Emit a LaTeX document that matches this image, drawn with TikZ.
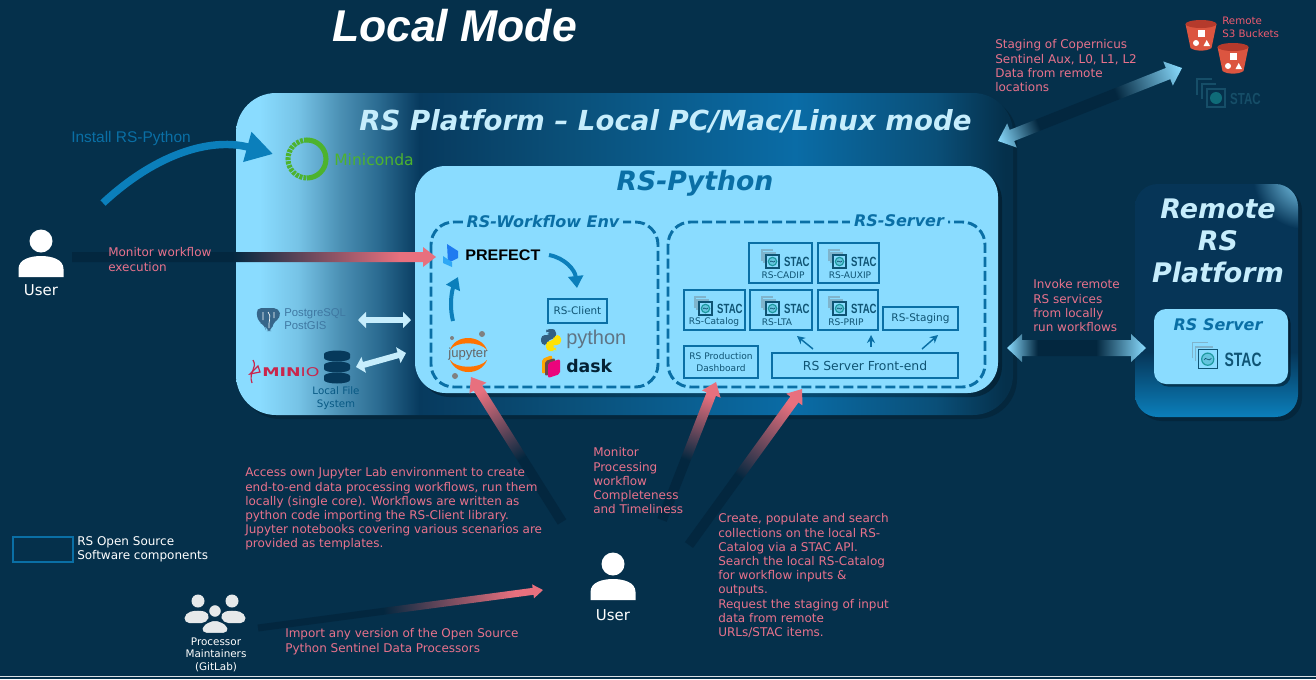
\documentclass[tikz,border=0pt]{standalone}
\usepackage{fontspec}
\setmainfont{DejaVu Sans}
\newfontfamily\arialFont{Liberation Sans}
\usetikzlibrary{arrows.meta,calc,shadows}

\definecolor{bgNavy}{HTML}{05304B}
\definecolor{bgDeep}{HTML}{03273F}
\definecolor{skyFill}{HTML}{8ADCFF}
\definecolor{paleArrow}{HTML}{C6EDFC}
\definecolor{lineBlue}{HTML}{0A6FA5}
\definecolor{archBlue}{HTML}{0B7FBB}
\definecolor{arrowRose}{HTML}{E8707E}
\definecolor{textRose}{HTML}{E8728C}
\definecolor{stacTeal}{HTML}{1E9AA0}
\definecolor{stacGrey}{HTML}{7FB4CC}
\definecolor{stacInk}{HTML}{0F5474}
\definecolor{stacDim}{HTML}{164E68}
\definecolor{stacDimTeal}{HTML}{0F6B78}
\definecolor{bucketRed}{HTML}{DC5540}
\definecolor{bucketDark}{HTML}{B53A2C}
\definecolor{condaGreen}{HTML}{4DB32E}
\definecolor{pgBlue}{HTML}{3F78A2}
\definecolor{minioRed}{HTML}{C9264C}
\definecolor{dbNavy}{HTML}{06395B}
\definecolor{crowdGrey}{HTML}{E6E9EA}
\definecolor{prefectBlue}{HTML}{1F7BF0}
\definecolor{prefectSky}{HTML}{2FA8F5}
\definecolor{pythonGrey}{HTML}{5F7484}
\definecolor{fadeSeven}{HTML}{76C3E6}
\definecolor{fadeFive}{HTML}{4B90B4}
\definecolor{fadeThree}{HTML}{2A6A90}
\definecolor{fadeOne}{HTML}{073A5E}
\definecolor{fadeTwo}{HTML}{0A4F78}
\definecolor{fadeFour}{HTML}{0A6CA6}
\definecolor{remoteDark}{HTML}{063557}

% ---------- shadings (25bp to 75bp is the span of the path) ----------
\pgfdeclarehorizontalshading{platformFade}{100bp}{
  color(0bp)=(skyFill); color(26.5bp)=(skyFill); color(29bp)=(fadeSeven);
  color(31.7bp)=(fadeFive); color(34.2bp)=(fadeThree); color(36.8bp)=(fadeOne);
  color(46bp)=(fadeTwo); color(61bp)=(fadeFour); color(70bp)=(fadeTwo);
  color(74.5bp)=(bgNavy); color(100bp)=(bgNavy)}
\pgfdeclarehorizontalshading{roseFade}{100bp}{
  color(0bp)=(bgDeep); color(47bp)=(bgDeep); color(70bp)=(arrowRose); color(100bp)=(arrowRose)}
\pgfdeclarehorizontalshading{skyFade}{100bp}{
  color(0bp)=(skyFill); color(25bp)=(skyFill); color(36bp)=(bgDeep);
  color(57bp)=(bgDeep); color(75bp)=(skyFill); color(100bp)=(skyFill)}
\pgfdeclareverticalshading{remoteFade}{100bp}{
  color(0bp)=(archBlue); color(25bp)=(archBlue); color(39bp)=(remoteDark); color(100bp)=(remoteDark)}

% ---------- fat arrow: shading, from, to, half shaft, half head, head length ----------
\newcommand{\fadeArrow}[6]{%
  \path let \p1=(#2),\p2=(#3),\n1={atan2(\y2-\y1,\x2-\x1)},\n2={veclen(\x2-\x1,\y2-\y1)} in
    \pgfextra{\pgfmathsetmacro{\arrowAng}{\n1}\pgfmathsetmacro{\arrowLen}{\n2}%
      \xdef\arrowAng{\arrowAng}\xdef\arrowLen{\arrowLen}\xdef\arrowX{\x1}\xdef\arrowY{\y1}};
  \path[shade,shading=#1,x=1pt,y=1pt,transform canvas={shift={(\arrowX,\arrowY)},rotate=\arrowAng}]
    (0,{#4*.75}) -- ({\arrowLen-#6*.75},{#4*.75}) -- ({\arrowLen-#6*.75},{#5*.75}) -- (\arrowLen,0)
    -- ({\arrowLen-#6*.75},{-#5*.75}) -- ({\arrowLen-#6*.75},{-#4*.75}) -- (0,{-#4*.75}) -- cycle;
}
\newcommand{\fadeBoth}[6]{%
  \path let \p1=(#2),\p2=(#3),\n1={atan2(\y2-\y1,\x2-\x1)},\n2={veclen(\x2-\x1,\y2-\y1)} in
    \pgfextra{\pgfmathsetmacro{\arrowAng}{\n1}\pgfmathsetmacro{\arrowLen}{\n2}%
      \xdef\arrowAng{\arrowAng}\xdef\arrowLen{\arrowLen}\xdef\arrowX{\x1}\xdef\arrowY{\y1}};
  \path[shade,shading=#1,x=1pt,y=1pt,transform canvas={shift={(\arrowX,\arrowY)},rotate=\arrowAng}]
    (0,0) -- ({#6*.75},{#5*.75}) -- ({#6*.75},{#4*.75}) -- ({\arrowLen-#6*.75},{#4*.75})
    -- ({\arrowLen-#6*.75},{#5*.75}) -- (\arrowLen,0) -- ({\arrowLen-#6*.75},{-#5*.75})
    -- ({\arrowLen-#6*.75},{-#4*.75}) -- ({#6*.75},{-#4*.75}) -- ({#6*.75},{-#5*.75}) -- cycle;
}

\begin{document}
\begin{tikzpicture}[
  x=0.75pt,
  y=-0.75pt,
  line cap=butt,
  every node/.style={inner sep=0pt, align=center},
  dashBox/.style={draw=lineBlue, line width=2.2pt, dash pattern=on 7.5pt off 3pt, rounded corners=17pt},
  compBox/.style={draw=lineBlue, line width=1.5pt, anchor=north west},
  bendArrow/.style={draw=archBlue, line width=3pt, -{Triangle[length=9pt,width=11pt]}},
  tickArrow/.style={draw=lineBlue, line width=1.1pt, -{Stealth[length=6pt,width=6pt]}},
  paleArrowLine/.style={draw=paleArrow, line width=4.5pt, {Triangle[length=6pt,width=12pt]}-{Triangle[length=6pt,width=12pt]}}
]

% ---------- node styles ----------
\tikzset{
  roseNote/.style={anchor=north west, align=left, text=textRose, font=\fontsize{9}{10.65}\selectfont},
  whiteNote/.style={anchor=north west, align=left, text=white, font=\fontsize{9}{10.65}\selectfont},
  boxLabel/.style={text=stacInk, font=\fontsize{6.8}{9}\selectfont},
  boxTitle/.style={text=lineBlue, fill=skyFill, inner xsep=3pt, font=\fontsize{12}{14}\selectfont\bfseries\itshape},
  staclogo/.pic={
    \draw[stacGrey, line width=1pt] (-10,1) |- (1,-10);
    \draw[stacGrey, line width=1pt] (-8,3) |- (4,-7);
    \draw[#1, line width=.9pt] (-6,-5) rectangle (7,8);
    \draw[stacTeal, fill=stacTeal!35!skyFill, line width=.9pt] (.5,1.5) circle[radius=4.2];
    \draw[stacInk, line width=.5pt] (-2,2) .. controls (-1,-1) and (1,4) .. (3,1);
    \node[text=#1, anchor=west, xscale=.72, transform shape, font=\arialFont\fontsize{10}{11}\selectfont\bfseries] at (12,2) {STAC};
  },
  userIcon/.pic={
    \fill[white] (0,0) circle[radius=11.5];
    \fill[white] (-22.5,36) -- (-22.5,28) .. controls (-22.5,18) and (-10,15) .. (0,15)
      .. controls (10,15) and (22.5,18) .. (22.5,28) -- (22.5,36) -- cycle;
  },
  s3Bucket/.pic={
    \fill[bucketRed] (-15.5,-11) -- (-10.5,13) .. controls (-6,16.5) and (6,16.5) .. (10.5,13) -- (15.5,-11) -- cycle;
    \fill[bucketDark] (0,-11) ellipse[x radius=15.5, y radius=4];
    \fill[white] (-3,-5) rectangle (4,2);
    \fill[white] (-5,8) circle[radius=3];
    \fill[white] (2.5,11) -- (9,11) -- (5.7,5) -- cycle;
  }
}

% ---------- canvas ----------
\path[use as bounding box, fill=bgNavy] (0,0) rectangle (1316,679);
\draw[white!85!bgNavy, line width=.8pt] (0,676.5) -- (1316,676.5);

\node[text=white, font=\arialFont\fontsize{33.4}{36}\selectfont\bfseries\itshape] (modeTitle) at (454.5,26) {Local Mode};

% ---------- platform boxes ----------
\path[shade, shading=platformFade, rounded corners=30pt, drop shadow={shadow xshift=3pt, shadow yshift=-3pt, fill=black, opacity=.18}]
  (236,93) rectangle (1013,415);
\node[text=paleArrow, font=\fontsize{20.7}{24}\selectfont\bfseries\itshape] (platformTitle) at (665.5,121) {RS Platform -- Local PC/Mac/Linux mode};

\path[fill=skyFill, rounded corners=23pt, drop shadow={shadow xshift=3pt, shadow yshift=-3pt, fill=black, opacity=.3}]
  (415,166) rectangle (998,393);
\node[text=lineBlue, font=\fontsize{20}{24}\selectfont\bfseries\itshape] (pythonTitle) at (695,183) {RS-Python};

\draw[dashBox] (431,222) rectangle (658,387);
\draw[dashBox] (668,222) rectangle (985,387);
\node[boxTitle] (envTitle) at (543,222) {RS-Workflow Env};
\node[boxTitle] (serverTitle) at (899,221) {RS-Server};

% ---------- server components ----------
\foreach \boxName/\boxX/\boxY/\boxW/\boxText/\textX/\logoX in {
    cadipBox/748/242/63/RS-CADIP/783/24, auxipBox/817/242/61/RS-AUXIP/850/22,
    catalogBox/683/289/61/RS-Catalog/714/22, ltaBox/749/289/62/RS-LTA/777/23, pripBox/817/289/60/RS-PRIP/846/22} {
  \node[compBox, minimum width=\boxW*.75pt, minimum height=30pt] (\boxName) at (\boxX,\boxY) {};
  \node[boxLabel] (\boxName Text) at (\textX,\boxY+33) {\boxText};
  \pic at (\boxX+\logoX,\boxY+18) {staclogo=stacInk};
}
\node[compBox, minimum width=56.2pt, minimum height=17.2pt, text=stacInk, font=\fontsize{7.9}{9}\selectfont] (stagingBox) at (882,306) {RS-Staging};
\node[compBox, minimum width=55.5pt, minimum height=24pt, text=stacInk, font=\fontsize{6.8}{9.4}\selectfont] (dashboardBox) at (683,345) {RS Production\\Dashboard};
\node[compBox, minimum width=139.5pt, minimum height=18.7pt, text=stacInk, font=\fontsize{9.3}{10}\selectfont] (frontEndBox) at (771,352) {RS Server Front-end};
\node[compBox, minimum width=44.2pt, minimum height=18pt, text=stacInk, font=\fontsize{7.8}{9}\selectfont] (clientBox) at (547,298) {RS-Client};

\coordinate (tickOneA) at (813,349);
\coordinate (tickOneB) at (797,336);
\coordinate (tickTwoA) at (871,347);
\coordinate (tickTwoB) at (871,335);
\coordinate (tickThreeA) at (922,349);
\coordinate (tickThreeB) at (938,335);
\draw[tickArrow] (tickOneA) -- (tickOneB);
\draw[tickArrow] (tickTwoA) -- (tickTwoB);
\draw[tickArrow] (tickThreeA) -- (tickThreeB);

% ---------- workflow env logos ----------
\fill[prefectBlue] (447,244) -- (458,251) -- (458,258) -- (448,263) -- cycle;
\fill[prefectSky] (443,256) -- (452,262) -- (452,267) -- (443,263) -- cycle;
\node[anchor=west, text=black, xscale=1.05, transform shape, font=\arialFont\fontsize{11.5}{13}\selectfont\bfseries] (prefectText) at (465,255.5) {PREFECT};

\coordinate (prefectOut) at (549,255);
\coordinate (clientIn) at (577,288);
\coordinate (jupyterOut) at (453,321);
\coordinate (prefectIn) at (458,277);
\draw[bendArrow] (prefectOut) .. controls (565,258) and (575,270) .. (clientIn);
\draw[bendArrow] (jupyterOut) .. controls (449,305) and (452,290) .. (prefectIn);

\fill[orange!90!red] (450,350) .. controls (455,334) and (481,334) .. (487,350) .. controls (480,341) and (456,341) .. cycle;
\fill[orange!90!red] (450,360) .. controls (456,376) and (481,376) .. (487,360) .. controls (480,369) and (456,369) .. cycle;
\fill[gray] (482,334) circle[radius=3];
\fill[gray] (452,338) circle[radius=2];
\fill[gray] (455,376) circle[radius=3];
\node[text=black!60, font=\arialFont\fontsize{9.8}{10}\selectfont] (jupyterText) at (468,354) {jupyter};

\fill[pgBlue!80!black, rounded corners=3pt] (551,329) -- (556,329) -- (556,339) -- (548,339) -- (548,345) -- (541,345) -- (541,335) -- (551,335) -- (551,333) -- (546,333) -- (546,329) -- cycle;
\fill[yellow!85!orange, rounded corners=3pt] (551,351) -- (546,351) -- (546,341) -- (554,341) -- (554,335) -- (561,335) -- (561,345) -- (551,345) -- (551,347) -- (556,347) -- (556,351) -- cycle;
\node[anchor=west, text=pythonGrey, font=\arialFont\fontsize{15}{19}\selectfont] (pythonText) at (566,339) {python};

\fill[orange!70!yellow, rounded corners=1.5pt] (542,359) -- (552,355) -- (552,370) -- (542,374) -- cycle;
\fill[red!40!teal, rounded corners=1.5pt] (545,361) -- (555,358) -- (555,373) -- (545,376) -- cycle;
\fill[magenta!85!red, rounded corners=1.5pt] (548,363) -- (560,359) -- (560,374) -- (548,378) -- cycle;
\node[anchor=west, text=bgNavy!70!black, font=\fontsize{13}{18}\selectfont\bfseries] (daskText) at (566,366) {dask};

% ---------- left side software ----------
\draw[condaGreen, line width=3.8pt] (307,140) arc[start angle=-90, end angle=90, x radius=19, y radius=19];
\draw[condaGreen, line width=3.8pt, dash pattern=on 2.2pt off .8pt] (307,140) arc[start angle=-90, end angle=-270, x radius=19, y radius=19];
\node[anchor=west, text=condaGreen, font=\fontsize{11.7}{13}\selectfont] (condaText) at (334,160) {Miniconda};

\fill[pgBlue!85!black, rounded corners=4pt] (256,308) -- (279,308) -- (281,318) -- (273,322) -- (272,331) -- (266,331) -- (265,325) -- (258,322) -- cycle;
\draw[white, line width=.5pt] (263,312) -- (263,320) (268,312) .. controls (272,316) and (268,322) .. (269,328) (274,312) -- (274,318);
\node[anchor=west, align=left, text=pgBlue, font=\arialFont\fontsize{8.5}{9.2}\selectfont] (postgresText) at (284,319) {PostgreSQL\\PostGIS};

\draw[minioRed, line width=.9pt] (253,360) .. controls (258,368) and (248,372) .. (252,383);
\draw[minioRed, line width=.9pt] (250,374) -- (258,366) -- (260,372) -- cycle;
\node[anchor=west, text=minioRed, xscale=1.45, transform shape, font=\fontsize{9}{10}\selectfont] (minioText) at (262,372) {\textbf{MIN}IO};

\foreach \diskY in {351,362,373} {
  \fill[dbNavy] (324,\diskY+3) -- (324,\diskY+7) arc[start angle=180, end angle=0, x radius=13, y radius=3.5] -- (350,\diskY+3) -- cycle;
  \fill[dbNavy] (337,\diskY+3) ellipse[x radius=13, y radius=3.5];
}
\node[text=lineBlue!80!black, font=\fontsize{7.7}{9.8}\selectfont] (fileText) at (336,398.5) {Local File\\System};

\coordinate (pgArrowA) at (358,320);
\coordinate (pgArrowB) at (411,320);
\coordinate (fileArrowA) at (356,367);
\coordinate (fileArrowB) at (406,353);
\draw[paleArrowLine] (pgArrowA) -- (pgArrowB);
\draw[paleArrowLine] (fileArrowA) -- (fileArrowB);

% ---------- remote platform ----------
\path[shade, shading=remoteFade, rounded corners=17pt,
      drop shadow={shadow xshift=3pt, shadow yshift=-3pt, fill=black, opacity=.2}]
  (1135,184) rectangle (1298,417);
\begin{scope}
  \clip[rounded corners=17pt] (1135,184) rectangle (1298,417);
  \shade[inner color=skyFill, outer color=remoteDark] (1305,177) circle[radius=52];
\end{scope}
\node[text=paleArrow, font=\fontsize{20.2}{24}\selectfont\bfseries\itshape] (remoteTitle) at (1218,241) {Remote\\RS\\Platform};
\path[fill=skyFill, rounded corners=9pt, drop shadow={shadow xshift=2pt, shadow yshift=-2pt, fill=black, opacity=.4}]
  (1154,309) rectangle (1288,384);
\node[text=lineBlue, font=\fontsize{12}{14}\selectfont\bfseries\itshape] (remoteServer) at (1218,325) {RS Server};
\pic[scale=1.45] at (1207,357) {staclogo=stacInk};

% ---------- remote buckets ----------
\pic at (1201,35) {s3Bucket};
\pic at (1233,58) {s3Bucket};
\node[roseNote, text=textRose!80!red, font=\fontsize{7.7}{9.6}\selectfont] (bucketText) at (1222,16.5) {Remote\\S3 Buckets};
\draw[stacDim, line width=1pt] (1197,95) |- (1212,79);
\draw[stacDim, line width=1pt] (1202,99) |- (1216,84);
\draw[stacDim, line width=.9pt] (1207,89) rectangle (1225,107);
\fill[stacDimTeal] (1216,98) circle[radius=6];
\node[text=stacDim, anchor=west, xscale=.72, transform shape, font=\arialFont\fontsize{12}{12}\selectfont\bfseries] (remoteStac) at (1230,99) {STAC};

% ---------- users ----------
\pic at (41,241) {userIcon};
\node[text=white, font=\fontsize{11.2}{13}\selectfont] (userLeft) at (41,290) {User};
\pic at (613,564) {userIcon};
\node[text=white, font=\fontsize{11.2}{13}\selectfont] (userBottom) at (613,615) {User};

\fill[crowdGrey] (198,601) circle[radius=6.5];
\fill[crowdGrey] (232,601) circle[radius=6.5];
\fill[crowdGrey, rounded corners=4pt] (184,623) -- (185,613) -- (198,610) -- (210,613) -- (207,623) -- cycle;
\fill[crowdGrey, rounded corners=4pt] (246,623) -- (245,613) -- (232,610) -- (220,613) -- (223,623) -- cycle;
\fill[crowdGrey, draw=bgNavy, line width=1pt] (215,611) circle[radius=6.5];
\fill[crowdGrey, draw=bgNavy, line width=1pt, rounded corners=4pt] (201,633.5) -- (202,625) -- (215,619) -- (228,625) -- (229,633.5) -- cycle;
\node[text=white, font=\fontsize{7.8}{9.4}\selectfont] (crowdText) at (216,654.5) {Processor\\Maintainers\\(GitLab)};

% ---------- fat arrows ----------
\coordinate (userLeftOut) at (72,257);
\coordinate (prefectTip) at (436,257);
\coordinate (jupyterFoot) at (562,522);
\coordinate (jupyterTip) at (471,377);
\coordinate (dashFoot) at (662,520);
\coordinate (dashTip) at (716,382);
\coordinate (frontFoot) at (689,545);
\coordinate (frontTip) at (802,389);
\coordinate (crowdOut) at (258,628);
\coordinate (userBottomIn) at (543,590);
\coordinate (stagingA) at (998,141);
\coordinate (stagingB) at (1182,68);
\coordinate (invokeA) at (1007,348);
\coordinate (invokeB) at (1146,348);
\fadeArrow{roseFade}{userLeftOut}{prefectTip}{5}{10}{13}
\fadeArrow{roseFade}{jupyterFoot}{jupyterTip}{5}{10}{13}
\fadeArrow{roseFade}{dashFoot}{dashTip}{5}{10}{13}
\fadeArrow{roseFade}{frontFoot}{frontTip}{5}{10}{13}
\fadeArrow{roseFade}{crowdOut}{userBottomIn}{3.5}{7}{10}
\fadeBoth{skyFade}{stagingA}{stagingB}{6}{13}{15}
\fadeBoth{skyFade}{invokeA}{invokeB}{8}{14}{15}

\coordinate (installFoot) at (103,203);
\coordinate (installTip) at (273,154);
\draw[draw=archBlue, line width=5.6pt, -{Triangle[length=20pt,width=22pt,sep=0pt]}, shorten >=0pt]
  (installFoot) .. controls (160,150) and (215,138) .. (installTip);

% ---------- notes ----------
\node[anchor=west, text=lineBlue, font=\arialFont\fontsize{11.6}{14}\selectfont] (installText) at (71,138) {Install RS-Python};
\node[roseNote] (monitorText) at (108,247.5) {Monitor workflow\\execution};
\node[roseNote] (accessText) at (245,467.5) {Access own Jupyter Lab environment to create\\end-to-end data processing workflows, run them\\locally (single core). Workflows are written as\\python code importing the RS-Client library.\\Jupyter notebooks covering various scenarios are\\provided as templates.};
\node[roseNote] (completeText) at (593,447.5) {Monitor\\Processing\\workflow\\Completeness\\and Timeliness};
\node[roseNote] (catalogText) at (718,513.5) {Create, populate and search\\collections on the local RS-\\Catalog via a STAC API.\\Search the local RS-Catalog\\for workflow inputs \&\\outputs.\\Request the staging of input\\data from remote\\URLs/STAC items.};
\node[roseNote] (importText) at (285,628.5) {Import any version of the Open Source\\Python Sentinel Data Processors};
\node[roseNote] (invokeText) at (1033,279.5) {Invoke remote\\RS services\\from locally\\run workflows};
\node[roseNote] (stagingText) at (995,39.5) {Staging of Copernicus\\Sentinel Aux, L0, L1, L2\\Data from remote\\locations};

% ---------- legend ----------
\node[compBox, minimum width=45pt, minimum height=18.7pt] (legendBox) at (12,536) {};
\node[whiteNote] (legendText) at (77,536.5) {RS Open Source\\Software components};

\end{tikzpicture}
\end{document}
